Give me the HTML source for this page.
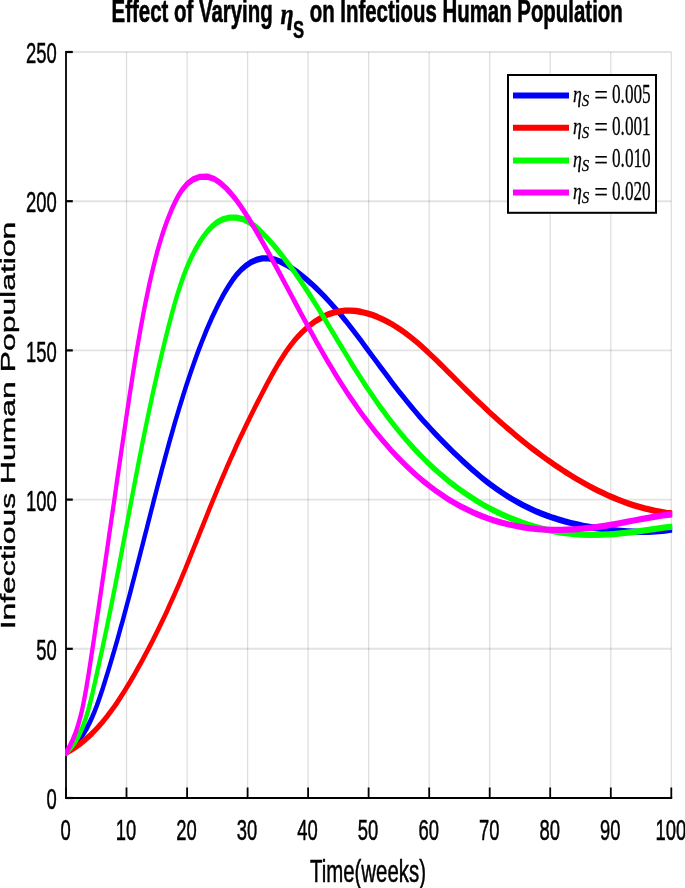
<!DOCTYPE html>
<html><head><meta charset="utf-8"><title>Effect of Varying eta_S on Infectious Human Population</title>
<style>html,body{margin:0;padding:0;background:#fff}svg{display:block}text{font-family:"Liberation Sans",Arial,sans-serif;fill:#000}.ser{font-family:"Liberation Serif","DejaVu Serif",serif}.b{font-weight:bold}.i{font-style:italic}</style></head><body>
<svg width="685" height="888" viewBox="0 0 685 888">
<rect width="685" height="888" fill="#fff"/>
<g stroke="#000" stroke-opacity="0.13" stroke-width="1.3"><line x1="66.0" y1="52.0" x2="66.0" y2="798.0"/><line x1="126.5" y1="52.0" x2="126.5" y2="798.0"/><line x1="187.1" y1="52.0" x2="187.1" y2="798.0"/><line x1="247.6" y1="52.0" x2="247.6" y2="798.0"/><line x1="308.1" y1="52.0" x2="308.1" y2="798.0"/><line x1="368.6" y1="52.0" x2="368.6" y2="798.0"/><line x1="429.2" y1="52.0" x2="429.2" y2="798.0"/><line x1="489.7" y1="52.0" x2="489.7" y2="798.0"/><line x1="550.2" y1="52.0" x2="550.2" y2="798.0"/><line x1="610.8" y1="52.0" x2="610.8" y2="798.0"/><line x1="671.3" y1="52.0" x2="671.3" y2="798.0"/></g>
<g stroke="#000" stroke-opacity="0.11" stroke-width="1.9"><line x1="66.0" y1="798.0" x2="671.3" y2="798.0"/><line x1="66.0" y1="648.8" x2="671.3" y2="648.8"/><line x1="66.0" y1="499.6" x2="671.3" y2="499.6"/><line x1="66.0" y1="350.4" x2="671.3" y2="350.4"/><line x1="66.0" y1="201.2" x2="671.3" y2="201.2"/><line x1="66.0" y1="52.0" x2="671.3" y2="52.0"/></g>
<g stroke="#000" stroke-width="1.8"><line x1="66.0" y1="51.0" x2="66.0" y2="799.0"/><line x1="66.0" y1="798.0" x2="66.0" y2="787.5"/><line x1="126.5" y1="798.0" x2="126.5" y2="787.5"/><line x1="187.1" y1="798.0" x2="187.1" y2="787.5"/><line x1="247.6" y1="798.0" x2="247.6" y2="787.5"/><line x1="308.1" y1="798.0" x2="308.1" y2="787.5"/><line x1="368.6" y1="798.0" x2="368.6" y2="787.5"/><line x1="429.2" y1="798.0" x2="429.2" y2="787.5"/><line x1="489.7" y1="798.0" x2="489.7" y2="787.5"/><line x1="550.2" y1="798.0" x2="550.2" y2="787.5"/><line x1="610.8" y1="798.0" x2="610.8" y2="787.5"/><line x1="671.3" y1="798.0" x2="671.3" y2="787.5"/></g>
<g stroke="#000" stroke-width="2.2"><line x1="65.1" y1="798.0" x2="672.1999999999999" y2="798.0"/><line x1="66.0" y1="798.0" x2="72.8" y2="798.0"/><line x1="66.0" y1="648.8" x2="72.8" y2="648.8"/><line x1="66.0" y1="499.6" x2="72.8" y2="499.6"/><line x1="66.0" y1="350.4" x2="72.8" y2="350.4"/><line x1="66.0" y1="201.2" x2="72.8" y2="201.2"/><line x1="66.0" y1="52.0" x2="72.8" y2="52.0"/></g>
<clipPath id="pc"><rect x="65" y="40" width="607.2" height="770"/></clipPath>
<g clip-path="url(#pc)">
<g transform="scale(0.67,1)" fill="none" stroke-width="6.3" stroke-linejoin="round" stroke-linecap="round">
<path d="M98.5 752.8 L105.9 748.9 L112.6 744.4 L118.6 739.6 L124.0 734.4 L128.9 729.0 L133.2 723.4 L137.2 717.7 L140.9 711.9 L144.3 706.0 L147.5 700.0 L150.5 694.1 L153.5 688.1 L156.3 682.1 L159.1 676.0 L161.9 670.0 L164.6 663.9 L167.3 657.9 L170.0 651.8 L172.6 645.8 L175.2 639.7 L177.7 633.6 L180.2 627.5 L182.8 621.5 L185.2 615.4 L187.7 609.3 L190.1 603.2 L192.6 597.1 L195.0 591.0 L197.3 584.9 L199.7 578.8 L202.1 572.6 L204.4 566.5 L206.8 560.4 L209.1 554.3 L211.5 548.2 L213.8 542.1 L216.1 535.9 L218.5 529.8 L220.8 523.7 L223.1 517.6 L225.4 511.5 L227.8 505.4 L230.1 499.2 L232.5 493.1 L234.8 487.0 L237.2 480.9 L239.6 474.8 L242.0 468.7 L244.5 462.6 L246.9 456.5 L249.4 450.4 L251.9 444.3 L254.4 438.3 L257.0 432.2 L259.6 426.1 L262.2 420.0 L264.9 414.0 L267.6 407.9 L270.4 401.9 L273.2 395.9 L276.0 389.9 L278.9 383.9 L281.9 377.9 L284.9 371.9 L288.0 365.9 L291.1 360.0 L294.3 354.0 L297.6 348.1 L301.0 342.2 L304.5 336.3 L308.0 330.5 L311.7 324.7 L315.5 318.9 L319.5 313.2 L323.6 307.5 L327.8 301.9 L332.3 296.3 L336.9 290.8 L341.8 285.4 L347.0 280.2 L352.7 275.1 L359.0 270.4 L366.0 266.2 L373.8 262.6 L382.3 259.9 L391.4 258.4 L400.8 258.3 L410.0 259.5 L418.8 261.8 L427.2 264.7 L435.2 268.0 L442.9 271.6 L450.3 275.5 L457.6 279.5 L464.7 283.7 L471.6 288.0 L478.3 292.4 L484.9 296.9 L491.3 301.5 L497.6 306.2 L503.8 311.0 L509.8 315.8 L515.8 320.7 L521.6 325.7 L527.4 330.7 L533.1 335.7 L538.8 340.7 L544.4 345.8 L550.0 350.9 L555.6 356.0 L561.2 361.0 L566.8 366.1 L572.5 371.2 L578.1 376.2 L583.8 381.3 L589.5 386.3 L595.3 391.3 L601.1 396.2 L607.0 401.1 L613.0 406.0 L619.1 410.9 L625.2 415.7 L631.4 420.4 L637.7 425.1 L644.1 429.8 L650.5 434.4 L657.0 438.9 L663.6 443.4 L670.3 447.9 L677.0 452.3 L683.8 456.7 L690.6 461.0 L697.6 465.3 L704.6 469.5 L711.7 473.6 L719.0 477.7 L726.3 481.6 L733.8 485.4 L741.5 489.1 L749.2 492.7 L757.1 496.1 L765.2 499.4 L773.4 502.5 L781.7 505.5 L790.2 508.3 L798.7 510.9 L807.4 513.4 L816.2 515.6 L825.1 517.7 L834.1 519.6 L843.1 521.4 L852.3 523.0 L861.4 524.4 L870.6 525.8 L879.9 526.9 L889.2 528.0 L898.5 528.9 L907.9 529.7 L917.2 530.4 L926.6 531.0 L936.0 531.4 L945.4 531.7 L954.8 531.8 L964.3 531.8 L973.7 531.6 L983.1 531.2 L992.5 530.6 L1001.8 529.7 L1011.1 528.8" stroke="#0000ff"/>
<path d="M98.5 752.8 L105.7 750.1 L112.7 747.1 L119.4 743.9 L125.9 740.5 L132.1 736.8 L138.1 733.0 L143.8 729.0 L149.4 724.9 L154.7 720.7 L159.8 716.4 L164.8 711.9 L169.7 707.5 L174.4 702.9 L178.9 698.3 L183.4 693.6 L187.8 688.9 L192.1 684.2 L196.3 679.4 L200.4 674.7 L204.5 669.8 L208.5 665.0 L212.5 660.2 L216.4 655.3 L220.3 650.4 L224.1 645.5 L227.9 640.6 L231.6 635.6 L235.3 630.7 L238.9 625.7 L242.5 620.7 L246.0 615.7 L249.5 610.7 L252.9 605.6 L256.3 600.6 L259.7 595.5 L263.0 590.4 L266.3 585.4 L269.5 580.3 L272.7 575.2 L275.9 570.1 L279.0 564.9 L282.1 559.8 L285.2 554.7 L288.3 549.5 L291.4 544.4 L294.5 539.3 L297.5 534.1 L300.6 529.0 L303.7 523.8 L306.8 518.7 L309.8 513.6 L312.9 508.4 L316.0 503.3 L319.2 498.2 L322.3 493.1 L325.5 487.9 L328.7 482.8 L331.9 477.7 L335.2 472.7 L338.4 467.6 L341.8 462.5 L345.1 457.4 L348.5 452.4 L351.9 447.3 L355.3 442.3 L358.8 437.3 L362.4 432.3 L365.9 427.3 L369.5 422.3 L373.1 417.3 L376.8 412.4 L380.5 407.4 L384.2 402.5 L388.0 397.6 L391.8 392.6 L395.6 387.7 L399.5 382.8 L403.4 378.0 L407.4 373.1 L411.5 368.3 L415.6 363.5 L420.0 358.8 L424.4 354.2 L429.1 349.6 L434.0 345.1 L439.2 340.8 L444.6 336.6 L450.3 332.6 L456.3 328.8 L462.6 325.2 L469.2 321.9 L476.2 319.0 L483.5 316.3 L491.0 314.1 L498.9 312.4 L507.0 311.3 L515.2 310.7 L523.4 310.6 L531.7 311.0 L539.8 312.0 L547.9 313.3 L555.7 314.9 L563.4 316.9 L571.0 319.2 L578.4 321.7 L585.6 324.4 L592.6 327.3 L599.4 330.4 L606.1 333.6 L612.7 337.0 L619.1 340.5 L625.4 344.1 L631.6 347.8 L637.7 351.5 L643.7 355.3 L649.7 359.1 L655.6 363.0 L661.5 366.9 L667.3 370.8 L673.1 374.7 L679.0 378.6 L684.8 382.5 L690.7 386.5 L696.5 390.4 L702.4 394.2 L708.3 398.1 L714.3 401.9 L720.3 405.7 L726.3 409.5 L732.4 413.3 L738.5 417.0 L744.6 420.7 L750.8 424.4 L757.0 428.0 L763.3 431.6 L769.6 435.2 L776.0 438.7 L782.4 442.2 L788.9 445.7 L795.4 449.1 L802.0 452.4 L808.6 455.7 L815.3 459.0 L822.0 462.2 L828.8 465.3 L835.7 468.4 L842.6 471.5 L849.6 474.4 L856.6 477.3 L863.7 480.1 L870.9 482.9 L878.1 485.6 L885.4 488.2 L892.8 490.7 L900.2 493.1 L907.7 495.4 L915.3 497.6 L923.0 499.7 L930.7 501.7 L938.4 503.6 L946.3 505.3 L954.2 506.9 L962.2 508.4 L970.2 509.7 L978.2 510.9 L986.4 511.9 L994.5 512.8 L1002.7 513.5 L1010.9 514.1" stroke="#ff0000"/>
<path d="M98.5 752.8 L105.5 747.8 L111.6 742.3 L116.9 736.3 L121.3 730.2 L125.2 723.8 L128.5 717.3 L131.4 710.7 L134.1 704.0 L136.6 697.4 L138.9 690.7 L141.2 684.0 L143.4 677.2 L145.6 670.5 L147.8 663.8 L150.0 657.1 L152.2 650.4 L154.3 643.6 L156.4 636.9 L158.6 630.2 L160.7 623.4 L162.7 616.7 L164.8 610.0 L166.8 603.2 L168.8 596.5 L170.8 589.7 L172.8 583.0 L174.7 576.2 L176.7 569.5 L178.6 562.7 L180.5 556.0 L182.4 549.2 L184.3 542.4 L186.2 535.7 L188.1 528.9 L190.0 522.2 L191.9 515.4 L193.8 508.6 L195.7 501.9 L197.6 495.1 L199.5 488.4 L201.4 481.6 L203.3 474.8 L205.3 468.1 L207.2 461.3 L209.2 454.6 L211.2 447.8 L213.2 441.1 L215.2 434.3 L217.3 427.6 L219.4 420.9 L221.5 414.1 L223.6 407.4 L225.8 400.7 L227.9 394.0 L230.1 387.2 L232.4 380.5 L234.6 373.8 L236.9 367.1 L239.3 360.4 L241.6 353.7 L244.0 347.0 L246.4 340.3 L248.9 333.7 L251.4 327.0 L254.0 320.3 L256.6 313.7 L259.3 307.1 L262.1 300.4 L265.1 293.8 L268.2 287.3 L271.4 280.8 L274.9 274.3 L278.7 267.9 L282.7 261.6 L287.1 255.3 L291.8 249.2 L297.0 243.3 L302.6 237.5 L308.8 232.0 L315.6 226.9 L323.5 222.5 L332.5 219.3 L342.4 217.6 L352.7 217.6 L362.6 219.1 L371.8 222.2 L380.2 226.1 L388.0 230.6 L395.2 235.5 L402.2 240.5 L409.0 245.7 L415.6 251.0 L422.0 256.4 L428.2 261.8 L434.4 267.3 L440.4 272.9 L446.2 278.6 L452.0 284.3 L457.6 290.0 L463.2 295.8 L468.7 301.6 L474.1 307.4 L479.5 313.3 L484.8 319.2 L490.1 325.1 L495.4 331.0 L500.7 336.9 L506.0 342.8 L511.3 348.7 L516.6 354.5 L521.9 360.4 L527.3 366.3 L532.8 372.1 L538.3 377.9 L543.9 383.7 L549.5 389.4 L555.3 395.1 L561.1 400.8 L567.0 406.4 L573.1 411.9 L579.2 417.5 L585.5 422.9 L591.9 428.3 L598.4 433.6 L605.0 438.9 L611.8 444.0 L618.7 449.1 L625.8 454.1 L633.0 459.0 L640.3 463.8 L647.8 468.5 L655.5 473.1 L663.3 477.6 L671.2 481.9 L679.3 486.1 L687.6 490.2 L696.0 494.1 L704.6 497.9 L713.3 501.6 L722.1 505.1 L731.1 508.4 L740.2 511.5 L749.5 514.5 L758.9 517.3 L768.4 519.9 L778.0 522.3 L787.7 524.6 L797.5 526.6 L807.4 528.4 L817.4 530.0 L827.5 531.3 L837.6 532.5 L847.8 533.4 L858.0 534.1 L868.2 534.6 L878.5 534.8 L888.8 534.9 L899.0 534.7 L909.3 534.4 L919.5 533.9 L929.7 533.2 L939.9 532.4 L950.1 531.6 L960.3 530.6 L970.4 529.7 L980.6 528.7 L990.8 527.7 L1001.0 526.9 L1011.2 526.0" stroke="#00ff00"/>
<path d="M98.5 752.8 L104.0 746.4 L108.7 739.7 L112.8 732.8 L116.3 725.7 L119.3 718.6 L122.0 711.4 L124.3 704.2 L126.4 696.9 L128.4 689.6 L130.2 682.3 L132.0 675.0 L133.7 667.7 L135.4 660.3 L137.0 653.0 L138.7 645.7 L140.4 638.4 L142.0 631.0 L143.6 623.7 L145.3 616.4 L146.9 609.1 L148.5 601.7 L150.1 594.4 L151.7 587.1 L153.3 579.7 L154.9 572.4 L156.5 565.1 L158.1 557.7 L159.7 550.4 L161.3 543.1 L162.8 535.7 L164.4 528.4 L166.0 521.1 L167.6 513.7 L169.2 506.4 L170.8 499.1 L172.4 491.7 L173.9 484.4 L175.5 477.0 L177.1 469.7 L178.7 462.4 L180.3 455.0 L181.9 447.7 L183.5 440.4 L185.1 433.0 L186.7 425.7 L188.3 418.4 L189.9 411.1 L191.6 403.7 L193.2 396.4 L194.9 389.1 L196.6 381.8 L198.3 374.4 L200.1 367.1 L201.8 359.8 L203.6 352.5 L205.5 345.2 L207.4 337.9 L209.3 330.6 L211.3 323.3 L213.3 316.0 L215.4 308.7 L217.5 301.5 L219.8 294.2 L222.0 287.0 L224.4 279.7 L226.9 272.5 L229.5 265.3 L232.2 258.1 L235.0 250.9 L238.1 243.8 L241.3 236.7 L244.7 229.7 L248.4 222.7 L252.4 215.8 L256.6 208.9 L261.2 202.2 L266.3 195.6 L272.3 189.4 L279.5 183.8 L288.3 179.4 L298.6 176.8 L309.6 176.6 L320.0 179.0 L329.2 183.2 L337.4 188.1 L344.9 193.6 L351.8 199.3 L358.3 205.3 L364.5 211.5 L370.5 217.7 L376.2 224.1 L381.8 230.4 L387.4 236.9 L392.8 243.3 L398.2 249.8 L403.6 256.3 L408.8 262.8 L414.1 269.3 L419.3 275.8 L424.5 282.4 L429.7 288.9 L434.9 295.4 L440.1 302.0 L445.3 308.5 L450.5 315.1 L455.8 321.6 L461.0 328.1 L466.4 334.6 L471.7 341.1 L477.2 347.5 L482.7 354.0 L488.2 360.4 L493.9 366.7 L499.6 373.1 L505.4 379.4 L511.3 385.6 L517.3 391.9 L523.5 398.0 L529.7 404.1 L536.1 410.2 L542.6 416.2 L549.2 422.1 L555.9 428.0 L562.8 433.8 L569.9 439.5 L577.1 445.1 L584.4 450.7 L592.0 456.1 L599.7 461.4 L607.6 466.6 L615.6 471.7 L623.9 476.6 L632.3 481.4 L641.0 486.0 L649.8 490.5 L658.9 494.7 L668.1 498.8 L677.6 502.6 L687.2 506.3 L697.1 509.6 L707.1 512.8 L717.3 515.6 L727.6 518.2 L738.1 520.6 L748.7 522.7 L759.5 524.5 L770.3 526.0 L781.2 527.3 L792.1 528.3 L803.1 529.1 L814.2 529.6 L825.2 529.9 L836.3 529.9 L847.3 529.7 L858.4 529.3 L869.4 528.7 L880.4 527.9 L891.4 527.0 L902.3 525.8 L913.2 524.6 L924.1 523.3 L935.0 521.9 L945.8 520.5 L956.7 519.1 L967.6 517.8 L978.5 516.5 L989.4 515.4 L1000.4 514.5 L1011.4 513.6" stroke="#ff00ff"/>
</g></g>
<text transform="translate(65.5,839.7) scale(0.635,1)" font-size="29" text-anchor="middle" stroke="#000" stroke-width="0.5">0</text>
<text transform="translate(126.0,839.7) scale(0.635,1)" font-size="29" text-anchor="middle" stroke="#000" stroke-width="0.5">10</text>
<text transform="translate(186.6,839.7) scale(0.635,1)" font-size="29" text-anchor="middle" stroke="#000" stroke-width="0.5">20</text>
<text transform="translate(247.1,839.7) scale(0.635,1)" font-size="29" text-anchor="middle" stroke="#000" stroke-width="0.5">30</text>
<text transform="translate(307.6,839.7) scale(0.635,1)" font-size="29" text-anchor="middle" stroke="#000" stroke-width="0.5">40</text>
<text transform="translate(368.1,839.7) scale(0.635,1)" font-size="29" text-anchor="middle" stroke="#000" stroke-width="0.5">50</text>
<text transform="translate(428.7,839.7) scale(0.635,1)" font-size="29" text-anchor="middle" stroke="#000" stroke-width="0.5">60</text>
<text transform="translate(489.2,839.7) scale(0.635,1)" font-size="29" text-anchor="middle" stroke="#000" stroke-width="0.5">70</text>
<text transform="translate(549.7,839.7) scale(0.635,1)" font-size="29" text-anchor="middle" stroke="#000" stroke-width="0.5">80</text>
<text transform="translate(610.3,839.7) scale(0.635,1)" font-size="29" text-anchor="middle" stroke="#000" stroke-width="0.5">90</text>
<text transform="translate(670.8,839.7) scale(0.635,1)" font-size="29" text-anchor="middle" stroke="#000" stroke-width="0.5">100</text>
<text transform="translate(56.8,809.2) scale(0.635,1)" font-size="29" text-anchor="end" stroke="#000" stroke-width="0.5">0</text>
<text transform="translate(56.8,660.0) scale(0.635,1)" font-size="29" text-anchor="end" stroke="#000" stroke-width="0.5">50</text>
<text transform="translate(56.8,510.8) scale(0.635,1)" font-size="29" text-anchor="end" stroke="#000" stroke-width="0.5">100</text>
<text transform="translate(56.8,361.6) scale(0.635,1)" font-size="29" text-anchor="end" stroke="#000" stroke-width="0.5">150</text>
<text transform="translate(56.8,212.4) scale(0.635,1)" font-size="29" text-anchor="end" stroke="#000" stroke-width="0.5">200</text>
<text transform="translate(56.8,63.2) scale(0.635,1)" font-size="29" text-anchor="end" stroke="#000" stroke-width="0.5">250</text>
<text transform="translate(368,881.8) scale(0.648,1)" font-size="31.5" text-anchor="middle" stroke="#000" stroke-width="0.5">Time(weeks)</text>
<text transform="translate(14.9,425.5) scale(0.66,1) rotate(-90)" font-size="31.9" text-anchor="middle" stroke="#000" stroke-width="0.55">Infectious Human Population</text>
<text class="b" transform="translate(272.7,22.2) scale(0.67,1)" font-size="30.5" text-anchor="end" stroke="#000" stroke-width="0.6">Effect of Varying</text>
<text class="ser b i" transform="translate(280.6,23.7) scale(0.79,1)" font-size="30.3" text-anchor="start" stroke="#000" stroke-width="0.5">η</text>
<text class="b" transform="translate(293,37.6) scale(0.68,1)" font-size="24.5" text-anchor="start" stroke="#000" stroke-width="0.5">S</text>
<text class="b" transform="translate(309.7,22.2) scale(0.67,1)" font-size="30.5" text-anchor="start" stroke="#000" stroke-width="0.6">on Infectious Human Population</text>
<rect x="508" y="75" width="148" height="137.8" fill="#fff" stroke="#000" stroke-width="2"/>
<line x1="513" y1="95.5" x2="569" y2="95.5" stroke="#0000ff" stroke-width="6"/>
<text class="ser i" transform="translate(573,102.0) scale(0.76,1)" font-size="23.5" text-anchor="start" stroke="#000" stroke-width="0.3">η</text>
<text class="ser i" transform="translate(581.8,105.7) scale(0.85,1)" font-size="17.5" text-anchor="start" stroke="#000" stroke-width="0.3">S</text>
<text class="ser" transform="translate(594.3,103.7) scale(0.9,1)" font-size="27" text-anchor="start" stroke="#000" stroke-width="0.2">=</text>
<text class="ser" transform="translate(612,102.5) scale(0.65,1)" font-size="26.5" text-anchor="start" stroke="#000" stroke-width="0.3">0.005</text>
<line x1="513" y1="127.8" x2="569" y2="127.8" stroke="#ff0000" stroke-width="6"/>
<text class="ser i" transform="translate(573,134.3) scale(0.76,1)" font-size="23.5" text-anchor="start" stroke="#000" stroke-width="0.3">η</text>
<text class="ser i" transform="translate(581.8,138.0) scale(0.85,1)" font-size="17.5" text-anchor="start" stroke="#000" stroke-width="0.3">S</text>
<text class="ser" transform="translate(594.3,136.0) scale(0.9,1)" font-size="27" text-anchor="start" stroke="#000" stroke-width="0.2">=</text>
<text class="ser" transform="translate(612,134.8) scale(0.65,1)" font-size="26.5" text-anchor="start" stroke="#000" stroke-width="0.3">0.001</text>
<line x1="513" y1="160.4" x2="569" y2="160.4" stroke="#00ff00" stroke-width="6"/>
<text class="ser i" transform="translate(573,166.9) scale(0.76,1)" font-size="23.5" text-anchor="start" stroke="#000" stroke-width="0.3">η</text>
<text class="ser i" transform="translate(581.8,170.6) scale(0.85,1)" font-size="17.5" text-anchor="start" stroke="#000" stroke-width="0.3">S</text>
<text class="ser" transform="translate(594.3,168.6) scale(0.9,1)" font-size="27" text-anchor="start" stroke="#000" stroke-width="0.2">=</text>
<text class="ser" transform="translate(612,167.4) scale(0.65,1)" font-size="26.5" text-anchor="start" stroke="#000" stroke-width="0.3">0.010</text>
<line x1="513" y1="192.5" x2="569" y2="192.5" stroke="#ff00ff" stroke-width="6"/>
<text class="ser i" transform="translate(573,199.0) scale(0.76,1)" font-size="23.5" text-anchor="start" stroke="#000" stroke-width="0.3">η</text>
<text class="ser i" transform="translate(581.8,202.7) scale(0.85,1)" font-size="17.5" text-anchor="start" stroke="#000" stroke-width="0.3">S</text>
<text class="ser" transform="translate(594.3,200.7) scale(0.9,1)" font-size="27" text-anchor="start" stroke="#000" stroke-width="0.2">=</text>
<text class="ser" transform="translate(612,199.5) scale(0.65,1)" font-size="26.5" text-anchor="start" stroke="#000" stroke-width="0.3">0.020</text>
</svg></body></html>
